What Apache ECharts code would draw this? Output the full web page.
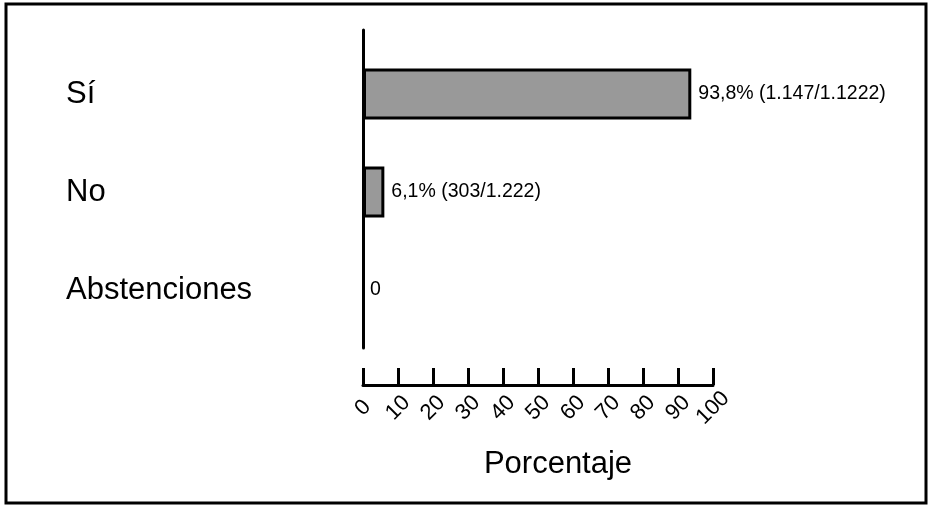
<!DOCTYPE html>
<html>
<head>
<meta charset="utf-8">
<script src="https://cdn.jsdelivr.net/npm/echarts@6/dist/echarts.min.js"></script>
<style>
html,body{margin:0;padding:0;background:#fff;}
#chart{width:933px;height:513px;}
</style>
</head>
<body>
<div id="chart"></div>
<script>
// votación: porcentaje por opción
const categories=["Sí","No","Abstenciones"];
const percentages=[93.8,6.1,0];
const barLabels=["93,8% (1.147/1.1222)","6,1% (303/1.222)","0"];
const xTicks=[0,10,20,30,40,50,60,70,80,90,100];

const font="Liberation Sans";

const chart=echarts.init(document.getElementById("chart"));

chart.setOption({
    animation:false,
    textStyle:{fontFamily:font,color:"#000"},
    graphic:[
        {
            type:"rect",
            shape:{x:6,y:4,width:920,height:499},
            style:{fill:"none",stroke:"#000",lineWidth:3},
            silent:true
        }
    ],
    grid:[
        {left:363,top:45,height:294,width:350},
        {left:363,top:30,bottom:165,width:350}
    ],
    xAxis:[
        {
            type:"value",
            gridIndex:0,
            min:xTicks[0],
            max:xTicks[xTicks.length-1],
            interval:10,
            offset:46,
            axisLine:{show:true,lineStyle:{color:"#000",width:3}},
            axisTick:{show:true,inside:true,length:17,lineStyle:{color:"#000",width:3}},
            axisLabel:{
                rotate:45,
                align:"center",
                verticalAlign:"middle",
                fontSize:22,
                color:"#000",
                margin:23,
                fontFamily:font,
                showMinLabel:true,
                showMaxLabel:true,
                hideOverlap:false
            },
            splitLine:{show:false},
            name:"Porcentaje",
            nameLocation:"middle",
            nameGap:64,
            nameTextStyle:{fontSize:31,color:"#000",fontFamily:font,padding:[0,0,0,40]}
        },
        {
            type:"value",
            gridIndex:1,
            show:false
        }
    ],
    yAxis:[
        {
            type:"category",
            gridIndex:0,
            inverse:true,
            data:categories,
            axisLine:{show:false},
            axisTick:{show:false},
            axisLabel:{align:"left",margin:297,fontSize:31,color:"#000",fontFamily:font}
        },
        {
            type:"category",
            gridIndex:1,
            data:[""],
            axisLine:{show:true,lineStyle:{color:"#000",width:3}},
            axisTick:{show:false},
            axisLabel:{show:false}
        }
    ],
    series:[
        {
            type:"bar",
            xAxisIndex:0,
            yAxisIndex:0,
            data:percentages.map(v=>({
                value:v,
                itemStyle:v===0?{borderWidth:0}:{}
            })),
            barWidth:51,
            itemStyle:{color:"#999999",borderColor:"#000",borderWidth:3},
            label:{
                show:true,
                position:"right",
                distance:7,
                fontSize:19.5,
                color:"#000",
                fontFamily:font,
                formatter:p=>barLabels[p.dataIndex]
            }
        }
    ]
});
</script>
</body>
</html>
